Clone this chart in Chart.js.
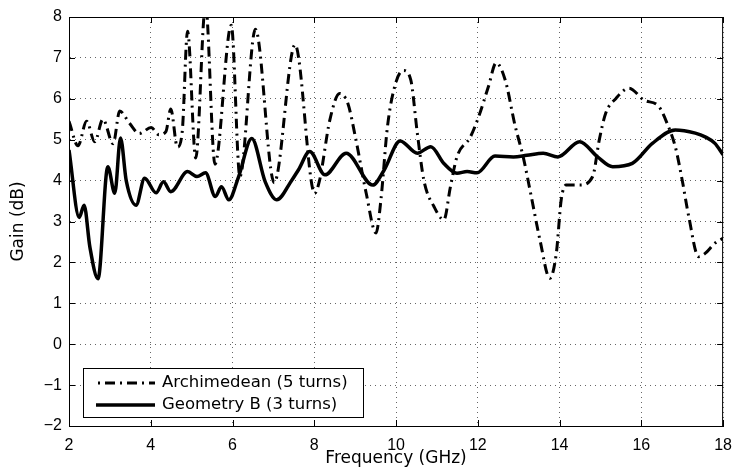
<!DOCTYPE html>
<html>
<head>
<meta charset="utf-8">
<script src="https://cdn.jsdelivr.net/npm/chart.js@4"></script>
<style>
  body { margin: 0; background: #fff; }
  #wrap { width: 742px; height: 475px; }
</style>
</head>
<body>
<div id="wrap"><canvas id="myChart"></canvas></div>
<script>
// Archimedean spiral (5 turns)
const archFreq = [2.0, 2.22, 2.43, 2.63, 2.83, 3.08, 3.24, 3.48, 3.72, 4.01, 4.2, 4.37, 4.49, 4.65, 4.77,
  4.9, 5.1, 5.34, 5.57, 5.97, 6.18, 6.56, 7.02, 7.53, 8.01, 8.13, 8.38, 8.62, 8.82, 9.02, 9.27, 9.51,
  9.63, 9.79, 9.99, 10.18, 10.36, 10.52, 10.68, 10.93, 11.17, 11.33, 11.49, 11.82, 12.02, 12.26, 12.45,
  12.67, 12.91, 13.11, 13.31, 13.52, 13.76, 13.92, 14.04, 14.16, 14.49, 14.81, 14.97, 15.13, 15.38,
  15.7, 16.06, 16.43, 16.63, 16.83, 17.0, 17.16, 17.4, 17.56, 17.8, 18.0];
const archGain = [5.45, 4.85, 5.45, 4.95, 5.5, 4.9, 5.7, 5.4, 5.15, 5.3, 5.12, 5.2, 5.75, 4.82, 5.2,
  7.65, 4.55, 8.3, 4.4, 7.8, 4.1, 7.7, 3.95, 7.32, 3.69, 4.01, 5.48, 6.13, 5.89, 4.99, 3.69, 2.72,
  3.53, 5.32, 6.38, 6.69, 6.46, 5.16, 4.01, 3.36, 3.04, 3.85, 4.58, 5.07, 5.56, 6.3, 6.88,
  6.46, 5.35, 4.58, 3.6, 2.55, 1.61, 2.22, 3.53, 3.89, 3.89, 4.1, 4.99, 5.65, 6.01,
  6.26, 5.97, 5.81, 5.4, 4.83, 4.01, 3.12, 2.14, 2.22, 2.47, 2.59];

// Geometry B (3 turns)
const geoFreq = [2.0, 2.25, 2.37, 2.51, 2.71, 2.95, 3.12, 3.26, 3.4, 3.64, 3.85, 4.13, 4.31, 4.49,
  4.9, 5.13, 5.34, 5.58, 5.73, 5.91, 6.15, 6.47, 6.8, 7.08, 7.45, 7.61, 7.89, 8.26, 8.78, 9.43, 9.71,
  10.1, 10.52, 10.85, 11.17, 11.49, 11.74, 11.98, 12.42, 12.87, 13.2, 13.6, 13.96, 14.49, 14.93,
  15.3, 15.78, 16.27, 16.83, 17.32, 17.56, 17.8, 18.0];
const geoGain = [4.75, 3.1, 3.4, 2.38, 1.6, 4.34, 3.69, 5.04, 4.0, 3.4, 4.06, 3.7, 3.97, 3.73,
  4.22, 4.1, 4.19, 3.61, 3.85, 3.53, 4.1, 5.03, 3.97, 3.53, 4.01, 4.26, 4.71, 4.14, 4.67, 3.89, 4.26,
  4.97, 4.67, 4.83, 4.42, 4.18, 4.22, 4.19, 4.6, 4.58, 4.62, 4.67, 4.58, 4.95, 4.58,
  4.34, 4.42, 4.91, 5.24, 5.16, 5.07, 4.91, 4.63];

const seriesNames = ['Archimedean (5 turns)', 'Geometry B (3 turns)'];
const xTicks = [2, 4, 6, 8, 10, 12, 14, 16, 18];
const yTicks = [-2, -1, 0, 1, 2, 3, 4, 5, 6, 7, 8];

const FONT = "'Liberation Sans', Arial, sans-serif";
const WIDE = "'DejaVu Sans', sans-serif";
const dashDot = [10, 5, 2, 5];

function toPoints(xs, ys) {
  return xs.map((x, i) => ({ x: x, y: ys[i] }));
}

// box round the plot, inward ticks and the legend, MATLAB style
const framePlugin = {
  id: 'frame',
  afterDraw(chart) {
    const ctx = chart.ctx;
    const a = chart.chartArea;
    const xs = chart.scales.x, ys = chart.scales.y;
    ctx.save();
    ctx.strokeStyle = '#000';
    ctx.lineWidth = 1;
    ctx.strokeRect(a.left + 0.5, a.top + 0.5, a.right - a.left - 1, a.bottom - a.top);
    ctx.beginPath();
    xTicks.forEach(v => {
      const px = Math.round(xs.getPixelForValue(v)) + 0.5;
      ctx.moveTo(px, a.bottom); ctx.lineTo(px, a.bottom - 6);
      ctx.moveTo(px, a.top); ctx.lineTo(px, a.top + 6);
    });
    yTicks.forEach(v => {
      const py = Math.round(ys.getPixelForValue(v)) + 0.5;
      ctx.moveTo(a.left, py); ctx.lineTo(a.left + 6, py);
      ctx.moveTo(a.right, py); ctx.lineTo(a.right - 6, py);
    });
    ctx.stroke();

    // legend
    const bx = 83, by = 368, bw = 280, bh = 49;
    ctx.fillStyle = '#fff';
    ctx.fillRect(bx, by, bw, bh);
    ctx.strokeRect(bx + 0.5, by + 0.5, bw, bh);
    const rows = [383, 405];
    chart.data.datasets.forEach((ds, i) => {
      ctx.beginPath();
      ctx.lineWidth = ds.borderWidth;
      ctx.setLineDash(ds.borderDash || []);
      ctx.lineDashOffset = ds.borderDash ? 13 : 0;
      ctx.moveTo(96, rows[i]);
      ctx.lineTo(155, rows[i]);
      ctx.stroke();
      ctx.setLineDash([]);
      ctx.fillStyle = '#000';
      ctx.font = '16.5px ' + WIDE;
      ctx.textBaseline = 'middle';
      ctx.fillText(ds.label, 162, rows[i]);
    });
    ctx.restore();
  }
};

document.addEventListener('DOMContentLoaded', function() {
  const ctx = document.getElementById('myChart');

  new Chart(ctx, {
    type: 'line',
    data: {
      datasets: [{
        label: seriesNames[0],
        data: toPoints(archFreq, archGain),
        borderColor: '#000',
        borderWidth: 3,
        borderDash: dashDot,
        cubicInterpolationMode: 'monotone',
        pointRadius: 0,
        fill: false
      }, {
        label: seriesNames[1],
        data: toPoints(geoFreq, geoGain),
        borderColor: '#000',
        borderWidth: 3.5,
        cubicInterpolationMode: 'monotone',
        pointRadius: 0,
        fill: false
      }]
    },
    options: {
      responsive: true,
      maintainAspectRatio: false,
      animation: false,
      layout: { padding: { top: 17, right: 14, left: 0, bottom: 0 } },
      plugins: {
        legend: { display: false },
        tooltip: { enabled: false }
      },
      scales: {
        x: {
          type: 'linear',
          min: 2,
          max: 18,
          afterFit: s => { s.height = 49; },
          afterBuildTicks: s => { s.ticks = xTicks.map(v => ({ value: v })); },
          ticks: { color: '#000', padding: 10, font: { family: FONT, size: 16 } },
          grid: { color: '#666', drawTicks: false },
          border: { color: '#000', dash: [1, 4] },
          title: { display: true, text: 'Frequency (GHz)', color: '#000', padding: { top: 0, bottom: 6 },
                   font: { family: WIDE, size: 17 } }
        },
        y: {
          min: -2,
          max: 8,
          afterFit: s => { s.width = 69; },
          afterBuildTicks: s => { s.ticks = yTicks.map(v => ({ value: v })); },
          ticks: {
            color: '#000', padding: 7, font: { family: FONT, size: 16 },
            callback: v => String(v).replace('-', '\u2212')
          },
          grid: { color: '#666', drawTicks: false },
          border: { color: '#000', dash: [1, 4] },
          title: { display: true, text: 'Gain (dB)', color: '#000', padding: { top: 8, bottom: 0 },
                   font: { family: WIDE, size: 17 } }
        }
      }
    },
    plugins: [framePlugin]
  });
});
</script>
</body>
</html>
